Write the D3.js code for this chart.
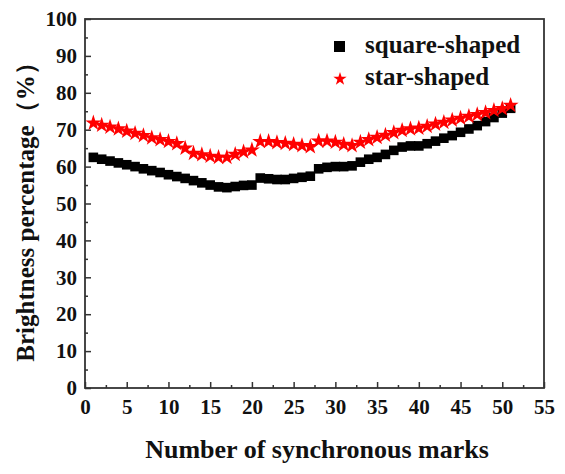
<!DOCTYPE html>
<html>
  <head>
    <meta charset="utf-8" />
    <script src="https://d3js.org/d3.v7.min.js"></script>
    <style>
      body { margin: 0; background: #fff; }
      svg text { font-family: "Liberation Serif", "DejaVu Serif", serif; font-weight: bold; fill: #111; }
    </style>
  </head>
  <body>
    <svg width="565" height="474"></svg>
    <script>
      // data
      const marks = d3.range(1, 52);
      const squareShaped = [
        62.5, 62.0, 61.5, 61.0, 60.5, 60.0, 59.4, 58.9, 58.4, 57.8,
        57.3, 56.8, 56.2, 55.6, 55.0, 54.5, 54.3, 54.6, 54.9, 55.0,
        56.9, 56.7, 56.5, 56.5, 56.8, 57.1, 57.4, 59.4, 59.8, 60.0,
        60.0, 60.2, 61.2, 62.0, 62.5, 63.3, 64.4, 65.3, 65.6, 65.6,
        66.2, 66.9, 67.7, 68.4, 69.3, 70.2, 71.1, 72.2, 73.3, 74.5,
        75.8
      ];
      const starShaped = [
        71.8, 71.2, 70.7, 70.2, 69.6, 69.0, 68.4, 67.8, 67.3, 66.8,
        66.2, 65.0, 63.6, 63.2, 62.8, 62.5, 62.5, 63.3, 64.0, 64.5,
        66.8, 66.8, 66.5, 66.3, 66.0, 65.7, 65.4, 66.9, 66.9, 66.6,
        66.0, 65.7, 66.6, 67.3, 67.9, 68.5, 69.2, 69.8, 70.2, 70.4,
        70.9, 71.5, 72.0, 72.6, 73.1, 73.6, 74.1, 74.6, 75.2, 75.7,
        76.6
      ];
      const xTicks = d3.range(0, 56, 5);
      const yTicks = d3.range(0, 101, 10);
      const seriesNames = ["square-shaped", "star-shaped"];

      const svg = d3.select("svg");
      const mLeft = 85, mRight = 544, mTop = 19, mBottom = 388;
      const x = d3.scaleLinear().domain([0, 55]).range([mLeft, mRight]);
      const y = d3.scaleLinear().domain([0, 100]).range([mBottom, mTop]);
      const axisColor = "#333";

      // frame
      svg.append("rect")
        .attr("x", mLeft).attr("y", mTop)
        .attr("width", mRight - mLeft).attr("height", mBottom - mTop)
        .attr("fill", "none").attr("stroke", axisColor).attr("stroke-width", 1.8);

      // bottom axis (ticks inward)
      const gx = svg.append("g").attr("transform", `translate(0,${mBottom})`);
      gx.append("g").call(d3.axisBottom(x).tickValues(d3.range(2.5, 55, 5)).tickSize(-3).tickFormat(""));
      gx.append("g").call(d3.axisBottom(x).tickValues(xTicks).tickSize(-6).tickFormat(d3.format("d")));
      gx.selectAll(".domain").remove();
      gx.selectAll("line").attr("stroke", axisColor).attr("stroke-width", 1.5);
      gx.selectAll("text").attr("font-size", 21).attr("y", 10).attr("dy", "0.75em");

      // left axis (ticks inward)
      const gy = svg.append("g").attr("transform", `translate(${mLeft},0)`);
      gy.append("g").call(d3.axisLeft(y).tickValues(d3.range(5, 100, 10)).tickSize(-3).tickFormat(""));
      gy.append("g").call(d3.axisLeft(y).tickValues(yTicks).tickSize(-6).tickFormat(d3.format("d")));
      gy.selectAll(".domain").remove();
      gy.selectAll("line").attr("stroke", axisColor).attr("stroke-width", 1.5);
      gy.selectAll("text").attr("font-size", 21).attr("x", -8);

      // axis titles
      svg.append("text")
        .attr("x", 317).attr("y", 458)
        .attr("text-anchor", "middle").attr("font-size", 26)
        .text("Number of synchronous marks");
      svg.append("text")
        .attr("transform", "translate(34,206) rotate(-90)")
        .attr("text-anchor", "middle").attr("font-size", 25)
        .text("Brightness percentage（%）");

      // series
      const star = d3.symbol().type(d3.symbolStar).size(80);
      svg.append("g").selectAll("rect")
        .data(marks)
        .join("rect")
        .attr("x", (d) => x(d) - 4.8)
        .attr("y", (d, i) => y(squareShaped[i]) - 4.8)
        .attr("width", 9.6).attr("height", 9.6)
        .attr("fill", "#000");
      svg.append("g").selectAll("path")
        .data(marks)
        .join("path")
        .attr("transform", (d, i) => `translate(${x(d)},${y(starShaped[i])})`)
        .attr("d", star)
        .attr("fill", "#ff0000");

      // legend
      const lg = svg.append("g");
      lg.append("rect").attr("x", 334).attr("y", 41).attr("width", 11).attr("height", 11).attr("fill", "#000");
      lg.append("path").attr("transform", "translate(340,79)").attr("d", d3.symbol().type(d3.symbolStar).size(55)).attr("fill", "#ff0000");
      lg.selectAll("text")
        .data(seriesNames)
        .join("text")
        .attr("x", 365)
        .attr("y", (d, i) => 53 + i * 32)
        .attr("font-size", 25)
        .text((d) => d);
    </script>
  </body>
</html>
